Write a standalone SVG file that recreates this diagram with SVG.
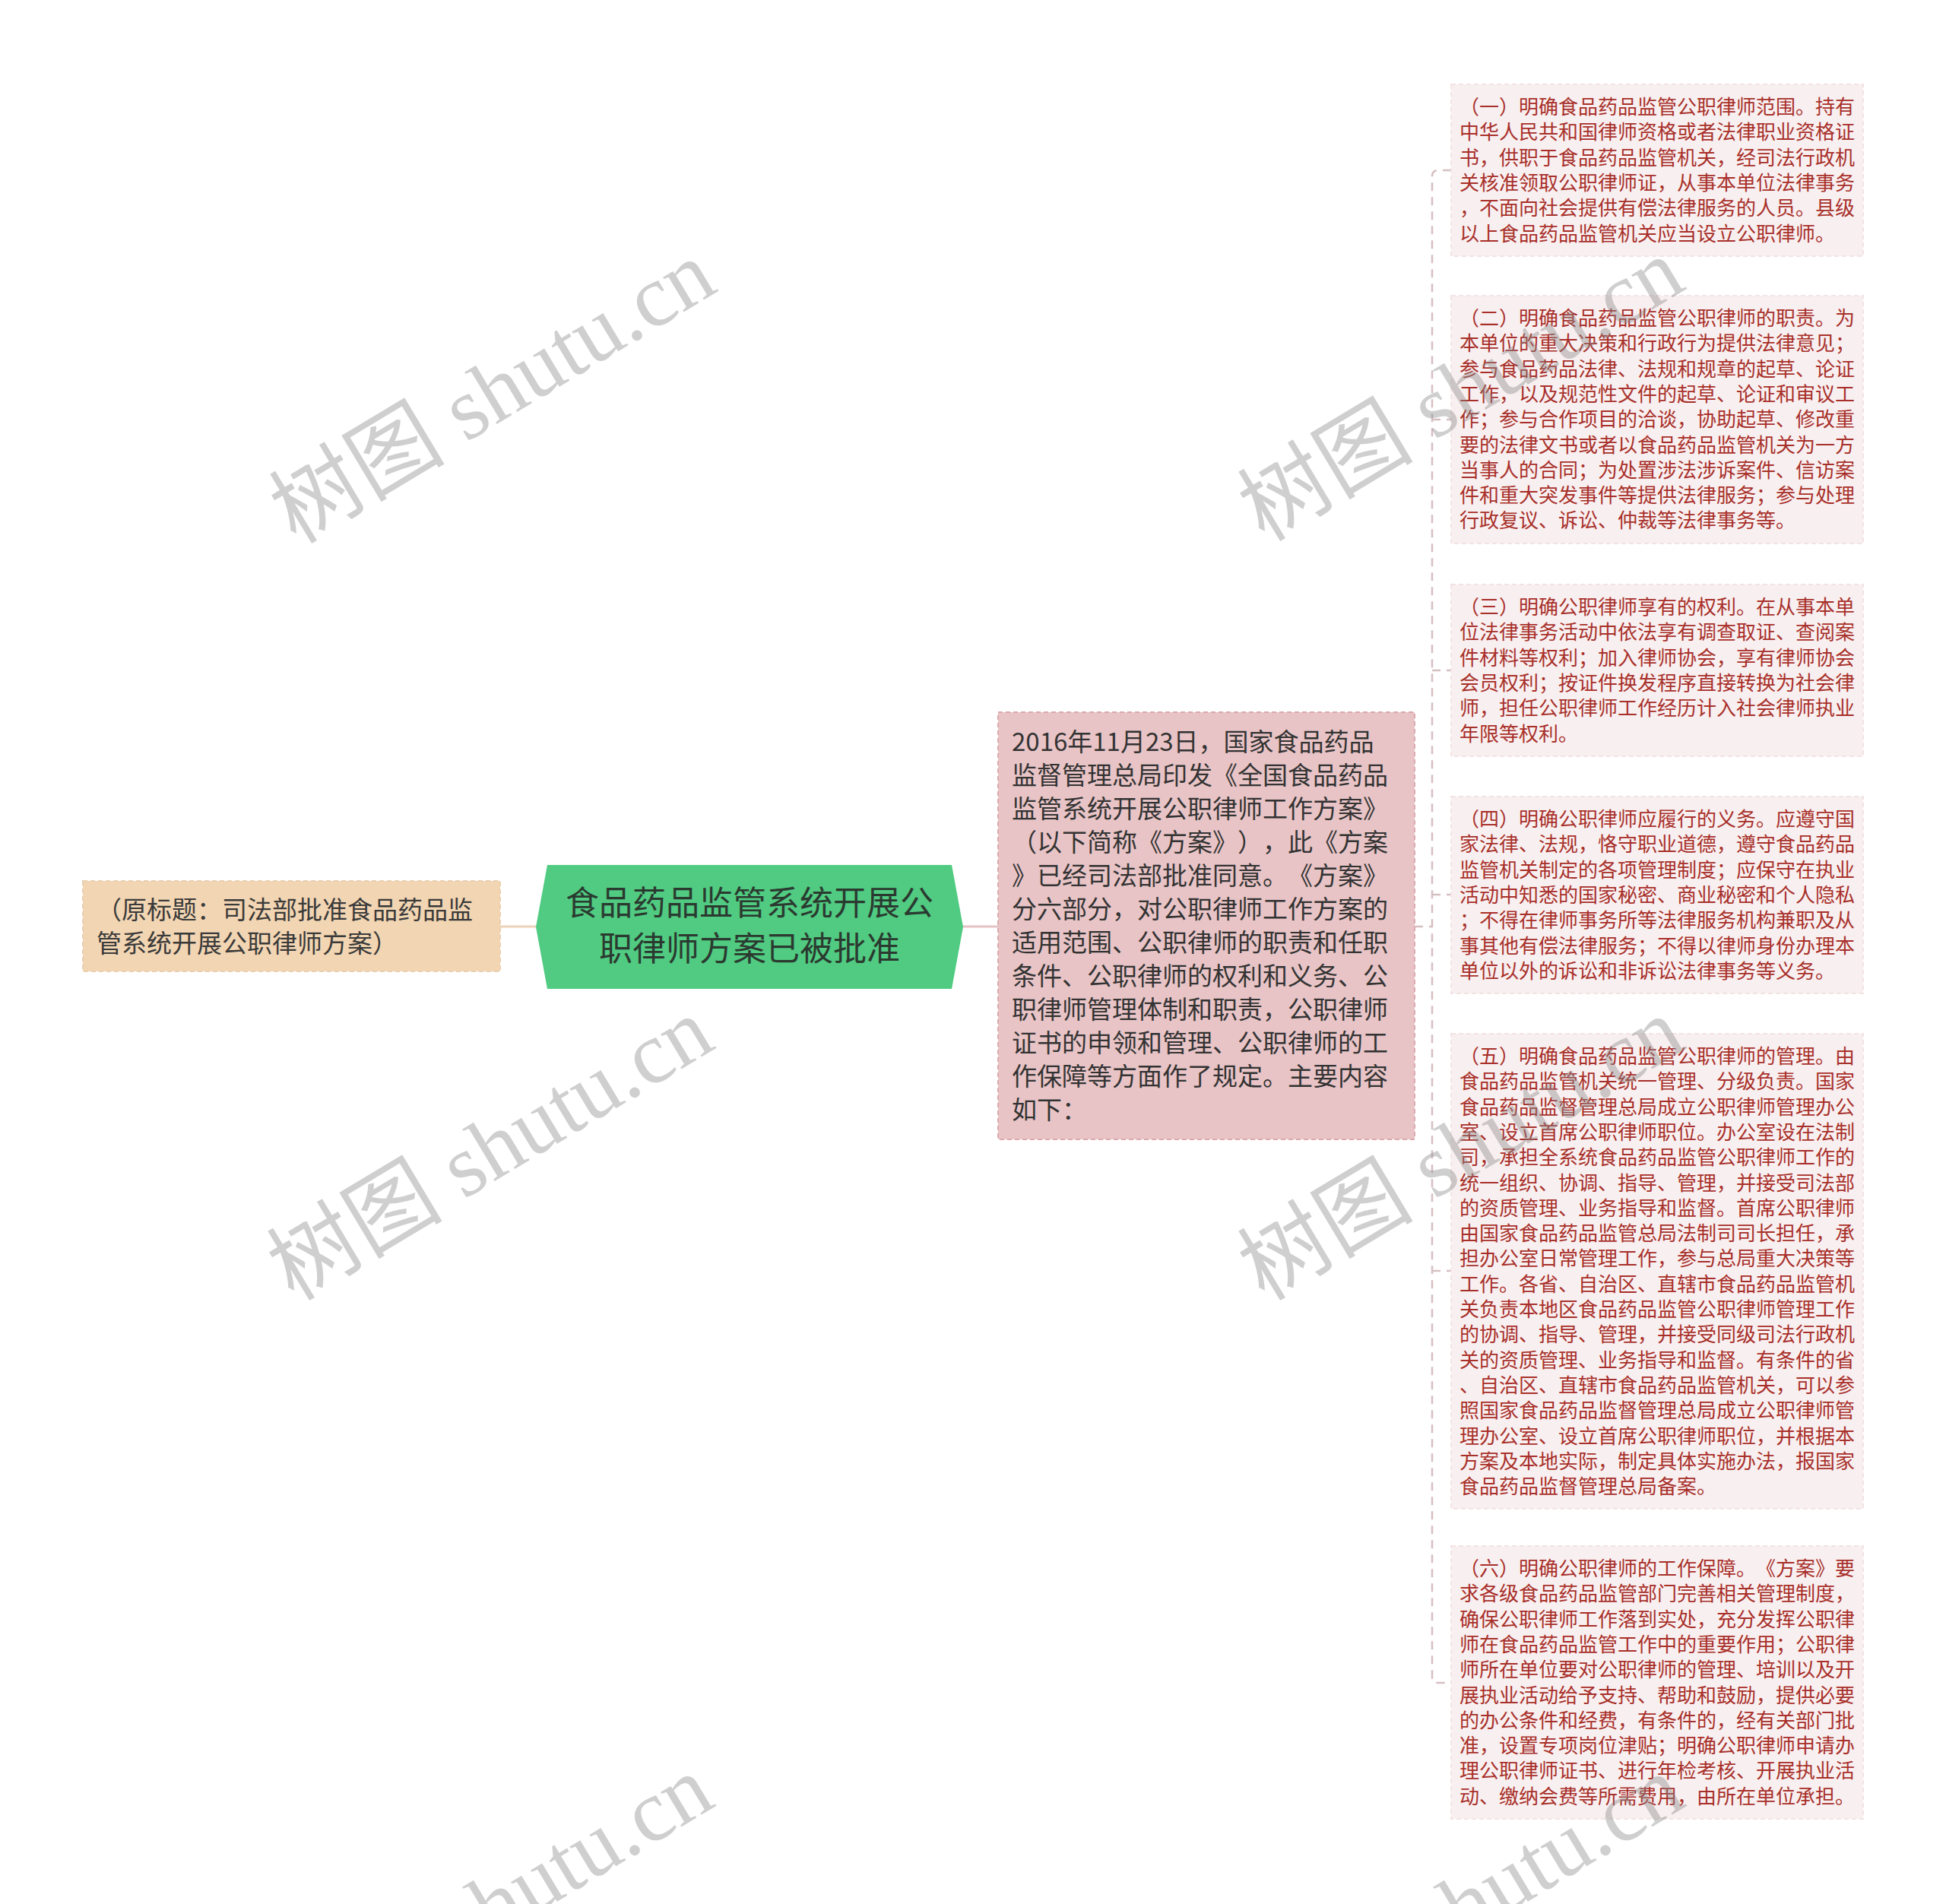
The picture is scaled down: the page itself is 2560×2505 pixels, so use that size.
<svg xmlns="http://www.w3.org/2000/svg" width="2560" height="2505" viewBox="0 0 2560 2505">
<style>
.bg{fill:#ffffff}
text{text-spacing-trim:space-all}
.rt{font-family:"Noto Sans CJK SC","Noto Sans",sans-serif;font-size:26px;fill:#a8302a}
.mt{font-family:"Noto Sans CJK SC","Noto Sans",sans-serif;font-size:33px;fill:#333333}
.lt{font-family:"Noto Sans CJK SC","Noto Sans",sans-serif;font-size:33px;fill:#3a3a3a}
.ct{font-family:"Noto Sans CJK SC","Noto Sans",sans-serif;font-size:44px;fill:#2b3a30;text-anchor:middle}
.rbox{fill:#f8eff0;stroke:#f3e3e4;stroke-width:2;stroke-dasharray:6 4}
.mbox{fill:#e8c4c6;stroke:#dca9ac;stroke-width:2;stroke-dasharray:6 4}
.lbox{fill:#f2d5b2;stroke:#ead0b0;stroke-width:2;stroke-dasharray:6 4}
.conn{fill:none;stroke:#d6bfc1;stroke-width:2.5;stroke-dasharray:11 8}
.wm{font-family:"Liberation Serif","Noto Sans CJK SC",serif;font-size:116px;fill:#888888;fill-opacity:0.4;text-anchor:middle;dominant-baseline:central}
</style>
<rect class="bg" x="0" y="0" width="2560" height="2505"/>
<g id="connectors">
<line x1="658" y1="1219" x2="705" y2="1219" stroke="#ecd2b8" stroke-width="3"/>
<line x1="1267" y1="1219" x2="1313" y2="1219" stroke="#e6c2c4" stroke-width="3"/>
<path class="conn" d="M1861 1219 H1884"/>
<path class="conn" d="M1909 224 H1892 Q1884 224 1884 232 V2206 Q1884 2214 1892 2214 H1909"/>
<path class="conn" d="M1884 552 H1909"/>
<path class="conn" d="M1884 882 H1909"/>
<path class="conn" d="M1884 1177 H1909"/>
<path class="conn" d="M1884 1672 H1909"/>
</g>
<g id="node-left">
<rect class="lbox" x="109" y="1159" width="549" height="119"/>
<text class="lt" x="127" y="1209">（原标题：司法部批准食品药品监</text>
<text class="lt" x="127" y="1253">管系统开展公职律师方案）</text>
</g>
<g id="node-center">
<polygon points="705,1219.5 720,1138 1252,1138 1267,1219.5 1252,1301 720,1301" fill="#50cb81"/>
<text class="ct" x="986" y="1204">食品药品监管系统开展公</text>
<text class="ct" x="986" y="1264">职律师方案已被批准</text>
</g>
<g id="node-middle">
<rect class="mbox" x="1313" y="937" width="548" height="562"/>
<text class="mt" x="1331" y="988">2016年11月23日，国家食品药品</text>
<text class="mt" x="1331" y="1032">监督管理总局印发《全国食品药品</text>
<text class="mt" x="1331" y="1076">监管系统开展公职律师工作方案》</text>
<text class="mt" x="1331" y="1120">（以下简称《方案》），此《方案</text>
<text class="mt" x="1331" y="1164">》已经司法部批准同意。《方案》</text>
<text class="mt" x="1331" y="1208">分六部分，对公职律师工作方案的</text>
<text class="mt" x="1331" y="1252">适用范围、公职律师的职责和任职</text>
<text class="mt" x="1331" y="1296">条件、公职律师的权利和义务、公</text>
<text class="mt" x="1331" y="1340">职律师管理体制和职责，公职律师</text>
<text class="mt" x="1331" y="1384">证书的申领和管理、公职律师的工</text>
<text class="mt" x="1331" y="1428">作保障等方面作了规定。主要内容</text>
<text class="mt" x="1331" y="1472">如下：</text>
</g>
<g id="node-r1">
<rect class="rbox" x="1909" y="111" width="542" height="226"/>
<text class="rt" x="1920" y="150">（一）明确食品药品监管公职律师范围。持有</text>
<text class="rt" x="1920" y="183.3">中华人民共和国律师资格或者法律职业资格证</text>
<text class="rt" x="1920" y="216.6">书，供职于食品药品监管机关，经司法行政机</text>
<text class="rt" x="1920" y="249.9">关核准领取公职律师证，从事本单位法律事务</text>
<text class="rt" x="1920" y="283.2">，不面向社会提供有偿法律服务的人员。县级</text>
<text class="rt" x="1920" y="316.5">以上食品药品监管机关应当设立公职律师。</text>
</g>
<g id="node-r2">
<rect class="rbox" x="1909" y="389" width="542" height="326"/>
<text class="rt" x="1920" y="428">（二）明确食品药品监管公职律师的职责。为</text>
<text class="rt" x="1920" y="461.3">本单位的重大决策和行政行为提供法律意见；</text>
<text class="rt" x="1920" y="494.6">参与食品药品法律、法规和规章的起草、论证</text>
<text class="rt" x="1920" y="527.9">工作，以及规范性文件的起草、论证和审议工</text>
<text class="rt" x="1920" y="561.2">作；参与合作项目的洽谈，协助起草、修改重</text>
<text class="rt" x="1920" y="594.5">要的法律文书或者以食品药品监管机关为一方</text>
<text class="rt" x="1920" y="627.8">当事人的合同；为处置涉法涉诉案件、信访案</text>
<text class="rt" x="1920" y="661.1">件和重大突发事件等提供法律服务；参与处理</text>
<text class="rt" x="1920" y="694.4">行政复议、诉讼、仲裁等法律事务等。</text>
</g>
<g id="node-r3">
<rect class="rbox" x="1909" y="769" width="542" height="226"/>
<text class="rt" x="1920" y="808">（三）明确公职律师享有的权利。在从事本单</text>
<text class="rt" x="1920" y="841.3">位法律事务活动中依法享有调查取证、查阅案</text>
<text class="rt" x="1920" y="874.6">件材料等权利；加入律师协会，享有律师协会</text>
<text class="rt" x="1920" y="907.9">会员权利；按证件换发程序直接转换为社会律</text>
<text class="rt" x="1920" y="941.2">师，担任公职律师工作经历计入社会律师执业</text>
<text class="rt" x="1920" y="974.5">年限等权利。</text>
</g>
<g id="node-r4">
<rect class="rbox" x="1909" y="1048" width="542" height="259"/>
<text class="rt" x="1920" y="1087">（四）明确公职律师应履行的义务。应遵守国</text>
<text class="rt" x="1920" y="1120.3">家法律、法规，恪守职业道德，遵守食品药品</text>
<text class="rt" x="1920" y="1153.6">监管机关制定的各项管理制度；应保守在执业</text>
<text class="rt" x="1920" y="1186.9">活动中知悉的国家秘密、商业秘密和个人隐私</text>
<text class="rt" x="1920" y="1220.2">；不得在律师事务所等法律服务机构兼职及从</text>
<text class="rt" x="1920" y="1253.5">事其他有偿法律服务；不得以律师身份办理本</text>
<text class="rt" x="1920" y="1286.8">单位以外的诉讼和非诉讼法律事务等义务。</text>
</g>
<g id="node-r5">
<rect class="rbox" x="1909" y="1360" width="542" height="625"/>
<text class="rt" x="1920" y="1399">（五）明确食品药品监管公职律师的管理。由</text>
<text class="rt" x="1920" y="1432.3">食品药品监管机关统一管理、分级负责。国家</text>
<text class="rt" x="1920" y="1465.6">食品药品监督管理总局成立公职律师管理办公</text>
<text class="rt" x="1920" y="1498.9">室、设立首席公职律师职位。办公室设在法制</text>
<text class="rt" x="1920" y="1532.2">司，承担全系统食品药品监管公职律师工作的</text>
<text class="rt" x="1920" y="1565.5">统一组织、协调、指导、管理，并接受司法部</text>
<text class="rt" x="1920" y="1598.8">的资质管理、业务指导和监督。首席公职律师</text>
<text class="rt" x="1920" y="1632.1">由国家食品药品监管总局法制司司长担任，承</text>
<text class="rt" x="1920" y="1665.4">担办公室日常管理工作，参与总局重大决策等</text>
<text class="rt" x="1920" y="1698.7">工作。各省、自治区、直辖市食品药品监管机</text>
<text class="rt" x="1920" y="1732">关负责本地区食品药品监管公职律师管理工作</text>
<text class="rt" x="1920" y="1765.3">的协调、指导、管理，并接受同级司法行政机</text>
<text class="rt" x="1920" y="1798.6">关的资质管理、业务指导和监督。有条件的省</text>
<text class="rt" x="1920" y="1831.9">、自治区、直辖市食品药品监管机关，可以参</text>
<text class="rt" x="1920" y="1865.2">照国家食品药品监督管理总局成立公职律师管</text>
<text class="rt" x="1920" y="1898.5">理办公室、设立首席公职律师职位，并根据本</text>
<text class="rt" x="1920" y="1931.8">方案及本地实际，制定具体实施办法，报国家</text>
<text class="rt" x="1920" y="1965.1">食品药品监督管理总局备案。</text>
</g>
<g id="node-r6">
<rect class="rbox" x="1909" y="2034" width="542" height="359"/>
<text class="rt" x="1920" y="2073">（六）明确公职律师的工作保障。《方案》要</text>
<text class="rt" x="1920" y="2106.3">求各级食品药品监管部门完善相关管理制度，</text>
<text class="rt" x="1920" y="2139.6">确保公职律师工作落到实处，充分发挥公职律</text>
<text class="rt" x="1920" y="2172.9">师在食品药品监管工作中的重要作用；公职律</text>
<text class="rt" x="1920" y="2206.2">师所在单位要对公职律师的管理、培训以及开</text>
<text class="rt" x="1920" y="2239.5">展执业活动给予支持、帮助和鼓励，提供必要</text>
<text class="rt" x="1920" y="2272.8">的办公条件和经费，有条件的，经有关部门批</text>
<text class="rt" x="1920" y="2306.1">准，设置专项岗位津贴；明确公职律师申请办</text>
<text class="rt" x="1920" y="2339.4">理公职律师证书、进行年检考核、开展执业活</text>
<text class="rt" x="1920" y="2372.7">动、缴纳会费等所需费用，由所在单位承担。</text>
</g>
<g id="watermarks">
<text class="wm" transform="translate(648,516) rotate(-31)">树图 shutu.cn</text>
<text class="wm" transform="translate(1922,513) rotate(-31)">树图 shutu.cn</text>
<text class="wm" transform="translate(645,1512) rotate(-31)">树图 shutu.cn</text>
<text class="wm" transform="translate(1922,1512) rotate(-31)">树图 shutu.cn</text>
<text class="wm" transform="translate(645,2509) rotate(-31)">树图 shutu.cn</text>
<text class="wm" transform="translate(1922,2509) rotate(-31)">树图 shutu.cn</text>
</g>
</svg>
